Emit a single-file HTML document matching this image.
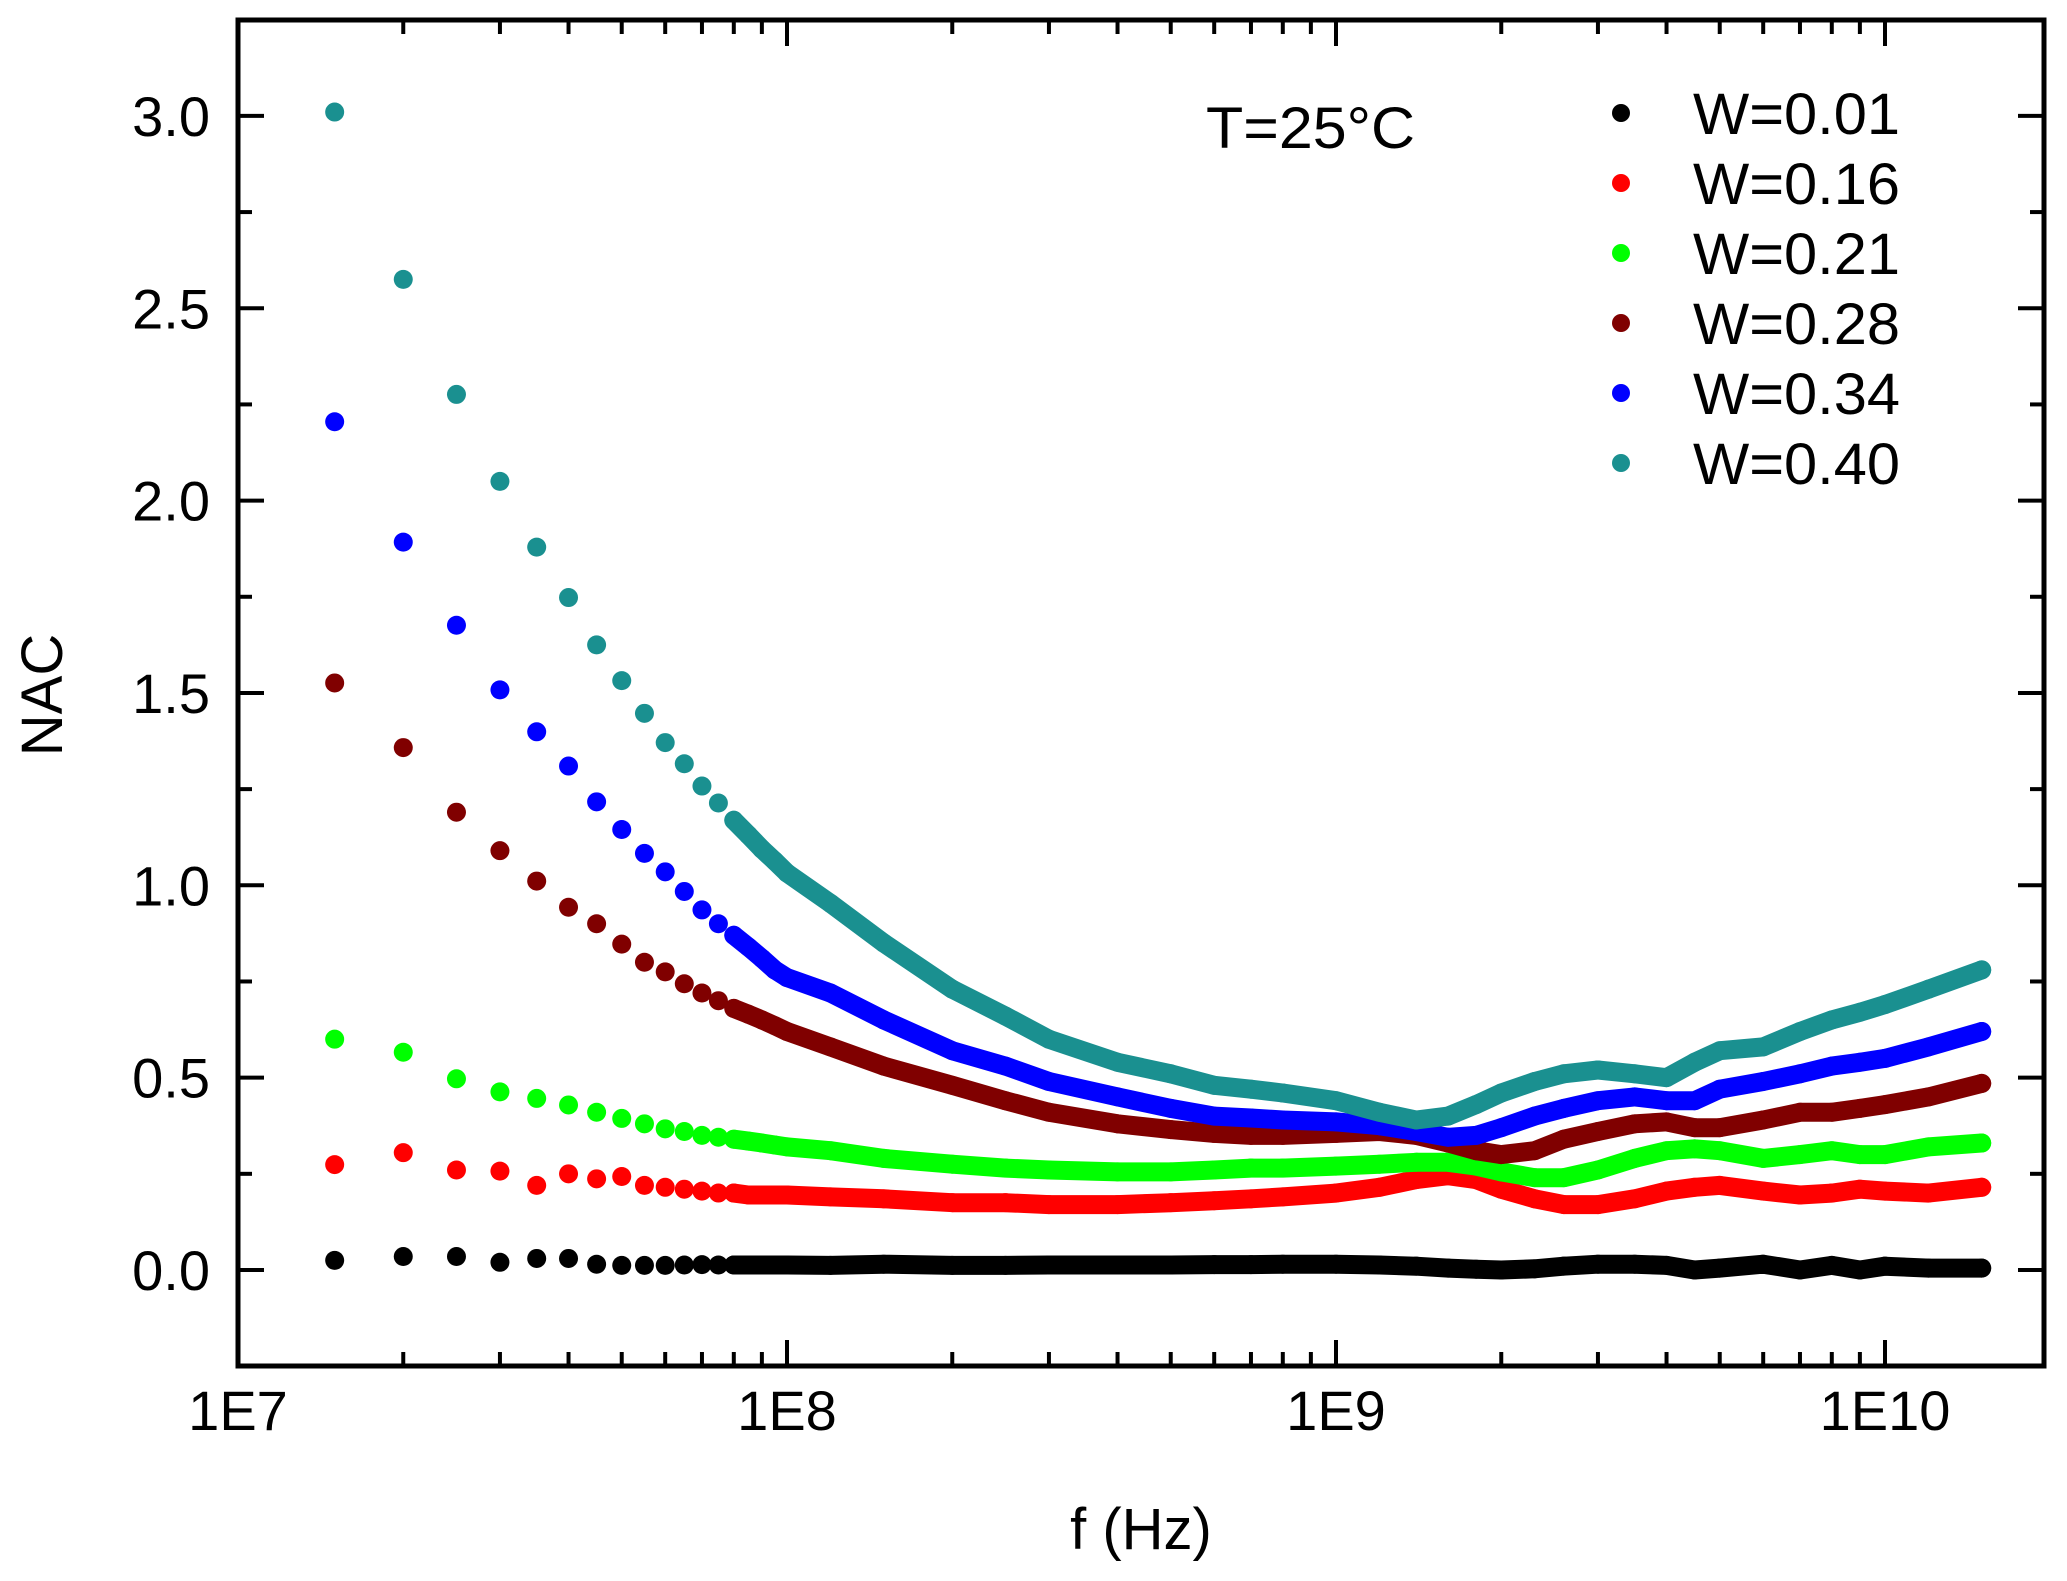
<!DOCTYPE html>
<html><head><meta charset="utf-8">
<style>
html,body{margin:0;padding:0;background:#fff;}
svg{display:block;font-family:"Liberation Sans",Arial,sans-serif;}
</style></head>
<body>
<svg id="chart" width="2067" height="1581" viewBox="0 0 2067 1581">
<g id="marks"></g>
<g id="axes"></g>
<text x="1206" y="148" font-size="58" textLength="209" lengthAdjust="spacingAndGlyphs">T=25°C</text>
<g id="legend"></g>
<text x="1141" y="1549" font-size="58" text-anchor="middle">f (Hz)</text>
<text x="0" y="0" font-size="58" text-anchor="middle" transform="translate(62,695) rotate(-90)">NAC</text>
</svg>
<script>
const freqs = [1.5e7,2e7,2.5e7,3e7,3.5e7,4e7,4.5e7,5e7,5.5e7,6e7,6.5e7,7e7,7.5e7,8e7,8.5e7,9e7,9.5e7,1e8,
 1.2e8,1.5e8,2e8,2.5e8,3e8,4e8,5e8,6e8,7e8,8e8,1e9,1.2e9,1.4e9,1.6e9,1.8e9,2e9,2.3e9,2.6e9,3e9,3.5e9,4e9,4.5e9,5e9,6e9,7e9,8e9,9e9,1e10,1.2e10,1.5e10];
const w001 = [0.025,0.035,0.035,0.02,0.03,0.03,0.015,0.012,0.012,0.012,0.013,0.014,0.013,0.013,0.013,0.013,0.013,0.013,
 0.012,0.015,0.012,0.012,0.013,0.013,0.013,0.014,0.014,0.015,0.015,0.013,0.01,0.005,0.002,0.0,0.003,0.01,0.015,0.015,0.012,0.0,0.005,0.015,0.0,0.012,0.0,0.01,0.005,0.005];
const w016 = [0.274,0.305,0.26,0.257,0.22,0.25,0.237,0.243,0.22,0.215,0.21,0.205,0.2,0.2,0.195,0.195,0.195,0.195,
 0.19,0.185,0.175,0.175,0.17,0.17,0.175,0.18,0.185,0.19,0.2,0.215,0.235,0.245,0.235,0.21,0.185,0.17,0.17,0.185,0.205,0.215,0.22,0.205,0.195,0.2,0.21,0.205,0.2,0.215];
const w021 = [0.6,0.566,0.497,0.463,0.446,0.429,0.41,0.394,0.38,0.367,0.36,0.35,0.345,0.34,0.335,0.33,0.325,0.32,
 0.31,0.29,0.275,0.265,0.26,0.255,0.255,0.26,0.265,0.265,0.27,0.275,0.28,0.28,0.27,0.255,0.24,0.24,0.26,0.29,0.31,0.315,0.31,0.29,0.3,0.31,0.3,0.3,0.32,0.33];
const w028 = [1.526,1.358,1.19,1.09,1.011,0.943,0.9,0.847,0.8,0.775,0.744,0.72,0.7,0.68,0.665,0.65,0.635,0.62,
 0.58,0.53,0.48,0.44,0.41,0.38,0.365,0.355,0.35,0.35,0.355,0.36,0.35,0.33,0.31,0.3,0.31,0.34,0.36,0.38,0.385,0.37,0.37,0.39,0.41,0.41,0.42,0.43,0.45,0.485];
const w034 = [2.205,1.892,1.676,1.508,1.399,1.31,1.217,1.145,1.083,1.035,0.984,0.936,0.9,0.87,0.84,0.81,0.78,0.76,
 0.72,0.65,0.57,0.53,0.49,0.45,0.42,0.4,0.395,0.39,0.385,0.375,0.36,0.345,0.35,0.37,0.4,0.42,0.44,0.45,0.44,0.44,0.47,0.49,0.51,0.53,0.54,0.55,0.58,0.62];
const w040 = [3.01,2.575,2.276,2.05,1.879,1.748,1.625,1.532,1.447,1.371,1.316,1.258,1.214,1.169,1.131,1.094,1.063,1.032,
 0.953,0.85,0.73,0.66,0.6,0.54,0.51,0.48,0.47,0.46,0.44,0.41,0.39,0.4,0.43,0.46,0.49,0.51,0.52,0.51,0.5,0.54,0.57,0.58,0.62,0.65,0.67,0.69,0.73,0.78];
const seriesLabels = ["W=0.01","W=0.16","W=0.21","W=0.28","W=0.34","W=0.40"];
const seriesColors = ["#000000","#ff0000","#00ff00","#800000","#0000ff","#1a9090"];
const yTickLabels = ["0.0","0.5","1.0","1.5","2.0","2.5","3.0"];
const xTickLabels = ["1E7","1E8","1E9","1E10"];

const NS = "http://www.w3.org/2000/svg";
const L = 238, R = 2044, T = 20, B = 1366;
const decadePx = 549;
function xScale(f){ return L + (Math.log10(f) - 7) * decadePx; }
function yScale(v){ return 1270 - v * 384.7; }
function mk(tag, attrs, parent){ const e = document.createElementNS(NS, tag); for (const k in attrs) e.setAttribute(k, attrs[k]); parent.appendChild(e); return e; }

const marks = document.getElementById('marks');
const allSeries = [w001,w016,w021,w028,w034,w040];
allSeries.forEach((vals, si) => {
  const g = mk('g', {}, marks);
  
  
  let pts = [];
  freqs.forEach((f, i) => { if (f >= 8e7) pts.push(xScale(f).toFixed(1) + ',' + yScale(vals[i]).toFixed(1)); });
  const pl = mk('polyline', {points: pts.join(' '), fill: 'none', stroke: seriesColors[si], 'stroke-width': 19, 'stroke-linejoin': 'round', 'stroke-linecap': 'round'}, g);
  
  
  freqs.forEach((f, i) => {
    const c = mk('circle', {cx: xScale(f), cy: yScale(vals[i]), r: 9.5, fill: seriesColors[si]}, g);
    
    
  });
});

const axes = document.getElementById('axes');
const frame = mk('rect', {x: L, y: T, width: R - L, height: B - T, fill: 'none', stroke: '#000', 'stroke-width': 5}, axes);


for (let k = 0; k <= 14; k++) {
  const v = -0.25 + k * 0.25;
  const y = yScale(v);
  if (y < T || y > B) continue;
  const major = Math.abs(v * 2 - Math.round(v * 2)) < 1e-6;
  const len = major ? 26 : 14;
  mk('line', {x1: L, x2: L + len, y1: y, y2: y, stroke: '#000', 'stroke-width': 4}, axes);
  mk('line', {x1: R, x2: R - len, y1: y, y2: y, stroke: '#000', 'stroke-width': 4}, axes);
}
yTickLabels.forEach((lab, i) => {
  const t = mk('text', {x: 210, y: yScale(i * 0.5) + 20, 'font-size': 56, 'text-anchor': 'end'}, axes);
  t.textContent = lab;
  
  
});
for (let d = 7; d <= 10; d++) {
  for (let m = 1; m <= 9; m++) {
    const x = xScale(m * Math.pow(10, d));
    if (x > R) break;
    const len = m === 1 ? 26 : 14;
    mk('line', {x1: x, x2: x, y1: B, y2: B - len, stroke: '#000', 'stroke-width': 4}, axes);
    mk('line', {x1: x, x2: x, y1: T, y2: T + len, stroke: '#000', 'stroke-width': 4}, axes);
  }
}
xTickLabels.forEach((lab, i) => {
  const t = mk('text', {x: xScale(Math.pow(10, 7 + i)), y: 1430, 'font-size': 56, 'text-anchor': 'middle'}, axes);
  t.textContent = lab;
  
  
});
const legend = document.getElementById('legend');
seriesLabels.forEach((lab, i) => {
  const cy = 113 + i * 70;
  const g = mk('g', {}, legend);
  
  
  mk('circle', {cx: 1621, cy: cy, r: 9, fill: seriesColors[i]}, g);
  const t = mk('text', {x: 1693, y: cy + 21, 'font-size': 58, textLength: 207, lengthAdjust: 'spacingAndGlyphs'}, g);
  t.textContent = lab;
});
</script>
</body></html>
